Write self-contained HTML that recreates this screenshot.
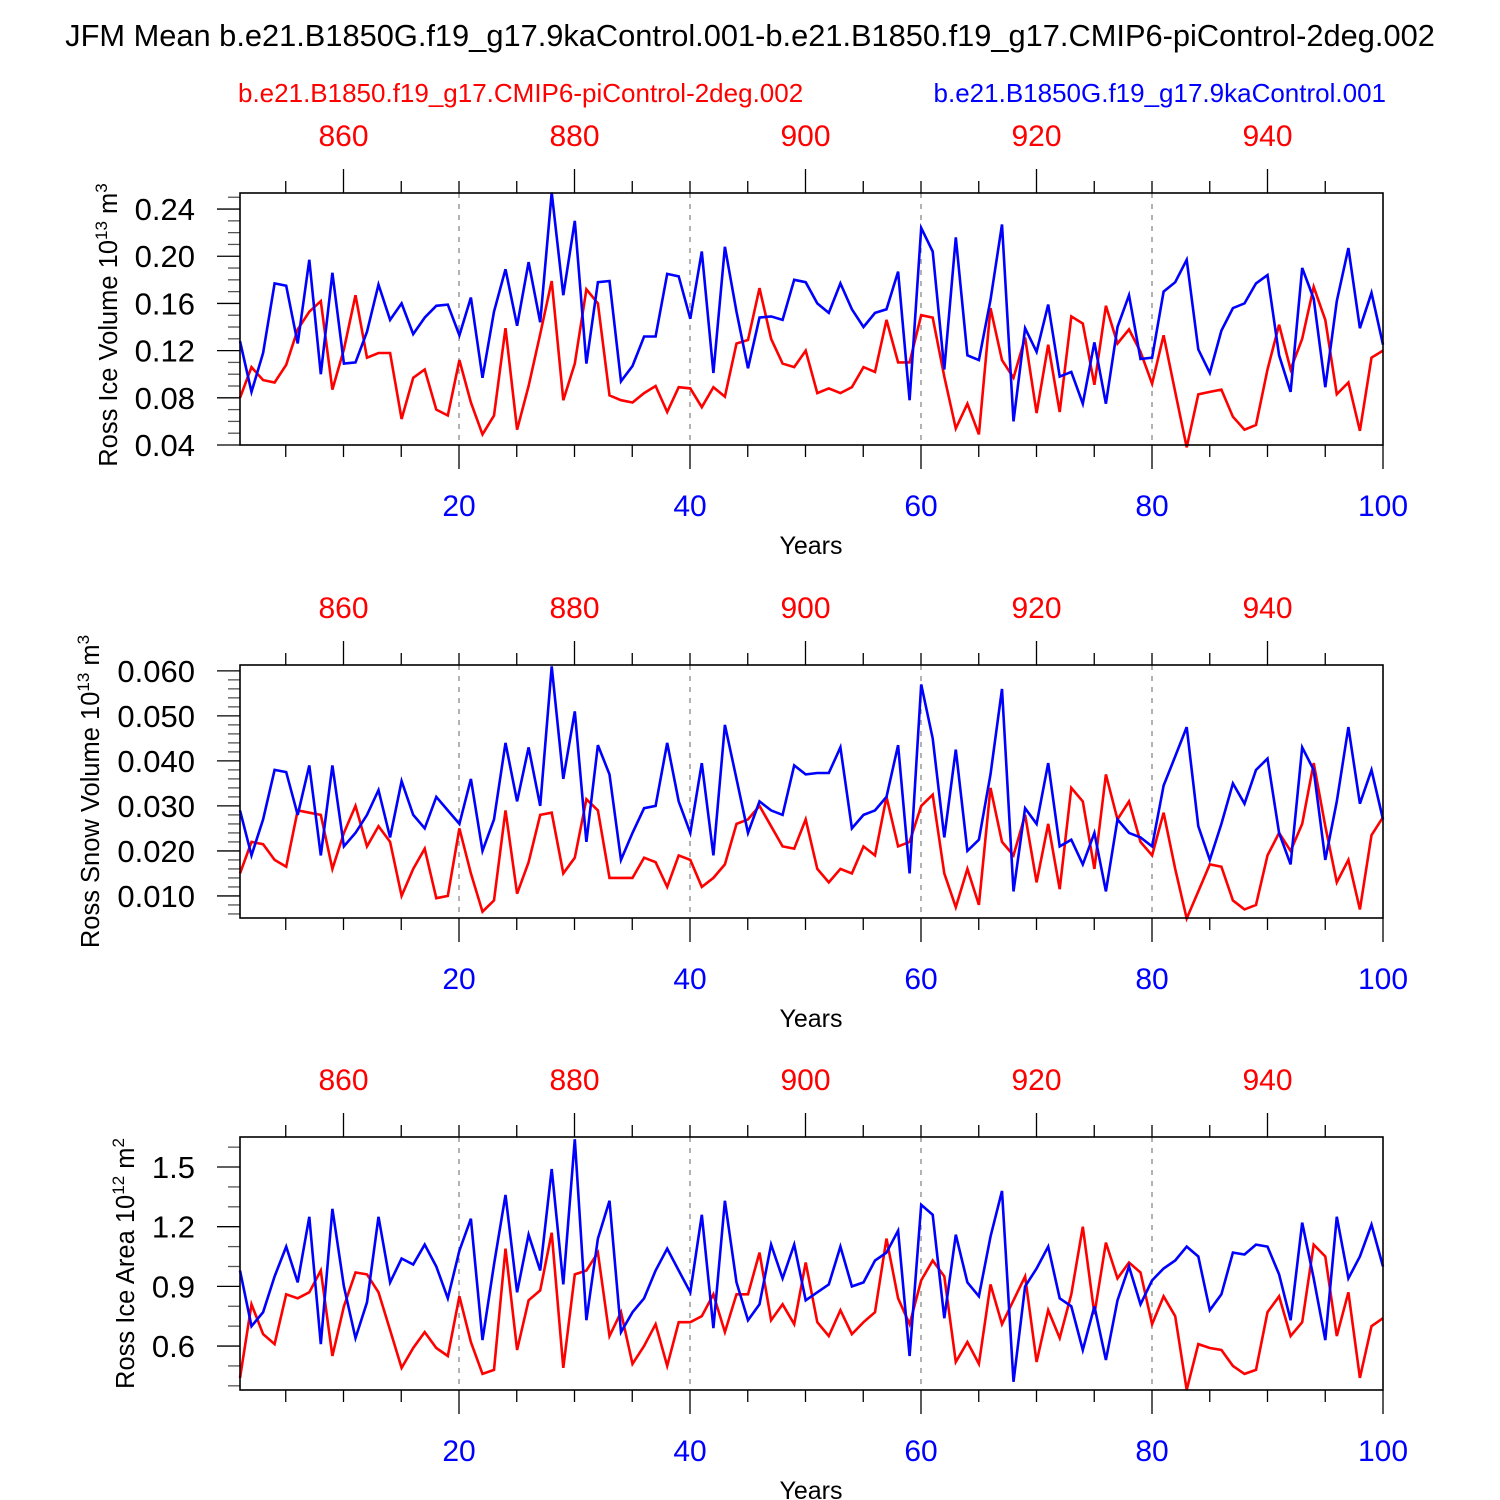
<!DOCTYPE html>
<html><head><meta charset="utf-8">
<style>
html,body{margin:0;padding:0;background:#fff;}
svg{display:block;font-family:"Liberation Sans",Arial,sans-serif;}
</style></head>
<body>
<svg id="chart" width="1500" height="1500" viewBox="0 0 1500 1500" xmlns="http://www.w3.org/2000/svg">
<text x="750" y="46" font-size="30.8" text-anchor="middle">JFM Mean b.e21.B1850G.f19_g17.9kaControl.001-b.e21.B1850.f19_g17.CMIP6-piControl-2deg.002</text>
<text x="238" y="102" font-size="26" fill="#ff0000">b.e21.B1850.f19_g17.CMIP6-piControl-2deg.002</text>
<text x="1386" y="102" font-size="26" fill="#0000ff" text-anchor="end">b.e21.B1850G.f19_g17.9kaControl.001</text>
</svg>
<script>
const iceVolBlue=[0.128,0.085,0.118,0.177,0.175,0.126,0.197,0.100,0.186,0.109,0.110,0.136,0.176,0.146,0.160,0.134,0.148,0.158,0.159,0.133,0.165,0.097,0.153,0.189,0.141,0.195,0.144,0.254,0.167,0.230,0.109,0.178,0.179,0.094,0.107,0.132,0.132,0.185,0.183,0.147,0.204,0.101,0.208,0.153,0.105,0.148,0.149,0.146,0.180,0.178,0.160,0.152,0.177,0.155,0.140,0.152,0.155,0.187,0.078,0.224,0.204,0.104,0.216,0.116,0.112,0.163,0.227,0.060,0.139,0.119,0.159,0.098,0.102,0.075,0.127,0.075,0.140,0.167,0.113,0.114,0.170,0.178,0.197,0.121,0.101,0.137,0.156,0.160,0.177,0.184,0.116,0.085,0.190,0.164,0.089,0.162,0.207,0.139,0.169,0.125];
const iceVolRed=[0.080,0.106,0.095,0.093,0.108,0.138,0.153,0.162,0.087,0.121,0.167,0.114,0.118,0.118,0.062,0.097,0.104,0.070,0.065,0.112,0.076,0.049,0.065,0.139,0.053,0.090,0.134,0.179,0.078,0.109,0.172,0.160,0.082,0.078,0.076,0.084,0.090,0.068,0.089,0.088,0.072,0.089,0.081,0.126,0.129,0.173,0.130,0.109,0.106,0.120,0.084,0.088,0.084,0.089,0.106,0.102,0.146,0.110,0.110,0.150,0.148,0.098,0.054,0.075,0.049,0.156,0.112,0.097,0.131,0.067,0.125,0.068,0.149,0.143,0.091,0.158,0.126,0.138,0.119,0.092,0.133,0.085,0.038,0.083,0.085,0.087,0.064,0.053,0.057,0.104,0.142,0.104,0.130,0.174,0.146,0.083,0.093,0.052,0.114,0.120];
const snowBlue=[0.029,0.019,0.027,0.038,0.0375,0.028,0.039,0.019,0.039,0.021,0.024,0.028,0.0335,0.023,0.0355,0.028,0.025,0.032,0.029,0.026,0.036,0.020,0.027,0.044,0.031,0.043,0.030,0.061,0.036,0.051,0.022,0.0435,0.037,0.018,0.024,0.0295,0.030,0.044,0.031,0.024,0.0395,0.019,0.048,0.036,0.024,0.031,0.029,0.028,0.039,0.037,0.0373,0.0373,0.043,0.025,0.028,0.029,0.032,0.0435,0.015,0.057,0.045,0.023,0.0425,0.020,0.0225,0.037,0.056,0.011,0.0295,0.026,0.0395,0.021,0.0225,0.017,0.024,0.011,0.027,0.024,0.023,0.021,0.0345,0.041,0.0475,0.0255,0.018,0.026,0.035,0.0305,0.038,0.0405,0.024,0.017,0.043,0.038,0.018,0.031,0.0475,0.0305,0.038,0.027];
const snowRed=[0.015,0.022,0.0215,0.018,0.0165,0.029,0.0285,0.028,0.016,0.024,0.030,0.021,0.0255,0.022,0.010,0.016,0.0205,0.0095,0.010,0.025,0.015,0.0065,0.009,0.029,0.0105,0.0175,0.028,0.0285,0.015,0.0185,0.0315,0.029,0.014,0.014,0.014,0.0185,0.0175,0.012,0.019,0.018,0.012,0.014,0.017,0.026,0.027,0.030,0.0255,0.021,0.0205,0.027,0.016,0.013,0.016,0.015,0.021,0.019,0.032,0.021,0.022,0.030,0.0325,0.015,0.0075,0.016,0.008,0.034,0.022,0.019,0.028,0.013,0.026,0.0115,0.034,0.031,0.016,0.037,0.027,0.031,0.022,0.019,0.0285,0.016,0.005,0.011,0.017,0.0165,0.009,0.007,0.008,0.019,0.024,0.020,0.026,0.0395,0.0255,0.013,0.018,0.007,0.0235,0.0275];
const areaBlue=[0.98,0.70,0.77,0.95,1.10,0.92,1.25,0.61,1.29,0.90,0.64,0.82,1.25,0.92,1.04,1.01,1.11,1.00,0.84,1.08,1.24,0.63,1.01,1.36,0.87,1.16,0.98,1.49,0.91,1.64,0.73,1.14,1.33,0.67,0.77,0.84,0.98,1.09,0.98,0.87,1.26,0.69,1.33,0.92,0.73,0.81,1.11,0.94,1.11,0.83,0.87,0.91,1.10,0.90,0.92,1.03,1.07,1.18,0.55,1.31,1.26,0.74,1.16,0.92,0.85,1.15,1.38,0.42,0.90,0.99,1.10,0.84,0.80,0.58,0.80,0.53,0.83,1.00,0.81,0.93,0.99,1.03,1.10,1.05,0.78,0.86,1.07,1.06,1.11,1.10,0.96,0.73,1.22,0.94,0.63,1.25,0.94,1.05,1.21,1.00];
const areaRed=[0.44,0.81,0.66,0.61,0.86,0.84,0.87,0.98,0.55,0.80,0.97,0.96,0.87,0.68,0.49,0.59,0.67,0.59,0.55,0.85,0.62,0.46,0.48,1.09,0.58,0.83,0.88,1.17,0.49,0.96,0.98,1.07,0.65,0.77,0.51,0.60,0.71,0.50,0.72,0.72,0.75,0.86,0.67,0.86,0.86,1.07,0.73,0.81,0.71,1.02,0.72,0.65,0.78,0.66,0.72,0.77,1.14,0.84,0.71,0.93,1.03,0.95,0.52,0.62,0.51,0.91,0.71,0.83,0.95,0.52,0.78,0.64,0.86,1.20,0.76,1.12,0.94,1.02,0.97,0.71,0.85,0.75,0.38,0.61,0.59,0.58,0.50,0.46,0.48,0.77,0.85,0.65,0.72,1.11,1.05,0.65,0.87,0.44,0.70,0.74];
const bottomTicks=[20,40,60,80,100];
const topTickLabels=["860","880","900","920","940"];
const topTickYears=[10,30,50,70,90];
const ice1Ticks=["0.04","0.08","0.12","0.16","0.20","0.24"];
const snowTicks=["0.010","0.020","0.030","0.040","0.050","0.060"];
const areaTicks=["0.6","0.9","1.2","1.5"];

const NS="http://www.w3.org/2000/svg";
const svg=document.getElementById('chart');
function mk(tag,attrs,parent){const e=document.createElementNS(NS,tag);for(const k in attrs)e.setAttribute(k,attrs[k]);(parent||svg).appendChild(e);return e;}
const X0=240,X1=1383;
function xScale(yr){return X0+(yr-1)*(X1-X0)/99;}
function xYear(yr){return 228+yr*11.55;}

const panels=[
 {name:'ice-volume',top:193,bot:445,ymin:0.04,ymax:0.2536,ticks:ice1Ticks,minor:0.01,blue:iceVolBlue,red:iceVolRed,title:'Ross Ice Volume 10',sup:'13',unit:' m',usup:'3',tx:117},
 {name:'snow-volume',top:665,bot:918,ymin:0.0051,ymax:0.0613,ticks:snowTicks,minor:0.002,blue:snowBlue,red:snowRed,title:'Ross Snow Volume 10',sup:'13',unit:' m',usup:'3',tx:99},
 {name:'ice-area',top:1137,bot:1390,ymin:0.379,ymax:1.651,ticks:areaTicks,minor:0.1,blue:areaBlue,red:areaRed,title:'Ross Ice Area 10',sup:'12',unit:' m',usup:'2',tx:134}
];
panels.forEach((p,pi)=>{
 const g=mk('g',{});
 
 
 const ys=v=>p.bot-(v-p.ymin)/(p.ymax-p.ymin)*(p.bot-p.top);
 [20,40,60,80].forEach(yr=>{const l=mk('line',{x1:xYear(yr),x2:xYear(yr),y1:p.top,y2:p.bot,stroke:'#888','stroke-width':1.3,'stroke-dasharray':'5,6'},g);
  });
 for(let yr=5;yr<=100;yr+=5){const xx=xYear(yr);const maj=yr%20===0;
  mk('line',{x1:xx,x2:xx,y1:p.bot,y2:p.bot+(maj?24:12),stroke:'#000','stroke-width':1.3},g);}
 for(let yr=5;yr<100;yr+=5){const xx=xYear(yr);const maj=(yr-10)%20===0;
  mk('line',{x1:xx,x2:xx,y1:p.top,y2:p.top-(maj?24:12),stroke:'#000','stroke-width':1.3},g);}
 const mn=Math.ceil(p.ymin/p.minor-1e-6);
 for(let k=mn;k*p.minor<=p.ymax+1e-9;k++){const v=k*p.minor;const isMaj=p.ticks.some(t=>Math.abs(parseFloat(t)-v)<1e-6);
  const y=ys(v);mk('line',{x1:X0,x2:X0-(isMaj?23:12),y1:y,y2:y,stroke:isMaj?'#000':'#555','stroke-width':1.3},g);}
 p.ticks.forEach(t=>{const e=mk('text',{x:X0-45,y:ys(parseFloat(t))+11,'font-size':31,'text-anchor':'end'},g);e.textContent=t;
  });
 bottomTicks.forEach(t=>{const e=mk('text',{x:xYear(t),y:p.bot+71,'font-size':30,'text-anchor':'middle',fill:'#0000ff'},g);e.textContent=String(t);
  });
 topTickLabels.forEach((t,i)=>{const e=mk('text',{x:xYear(topTickYears[i]),y:p.top-47,'font-size':30,'text-anchor':'middle',fill:'#ff0000'},g);e.textContent=t;
  });
 const xt=mk('text',{x:811,y:p.bot+109,'font-size':25,'text-anchor':'middle'},g);xt.textContent='Years';
 
 const yt=mk('text',{x:0,y:0,'font-size':25.5,'text-anchor':'middle',transform:`translate(${p.tx},${(p.top+p.bot)/2+(pi===0?6:0)}) rotate(-90)`},g);
 
 yt.innerHTML=p.title+'<tspan font-size="17" dy="-10">'+p.sup+'</tspan><tspan dy="10">'+p.unit+'</tspan><tspan font-size="17" dy="-10">'+p.usup+'</tspan>';
 [['red',p.red,'#ff0000'],['blue',p.blue,'#0000ff']].forEach(([nm,arr,col])=>{
  const d=arr.map((v,i)=>(i?'L':'M')+xScale(i+1).toFixed(1)+','+ys(v).toFixed(1)).join(' ');
  const pl=mk('path',{d:d,fill:'none',stroke:col,'stroke-width':2.6,'stroke-linejoin':'miter'},g);
  });
 const fr=mk('rect',{x:X0,y:p.top,width:X1-X0,height:p.bot-p.top,fill:'none',stroke:'#000','stroke-width':1.6},g);
 
});
</script>
</body></html>
